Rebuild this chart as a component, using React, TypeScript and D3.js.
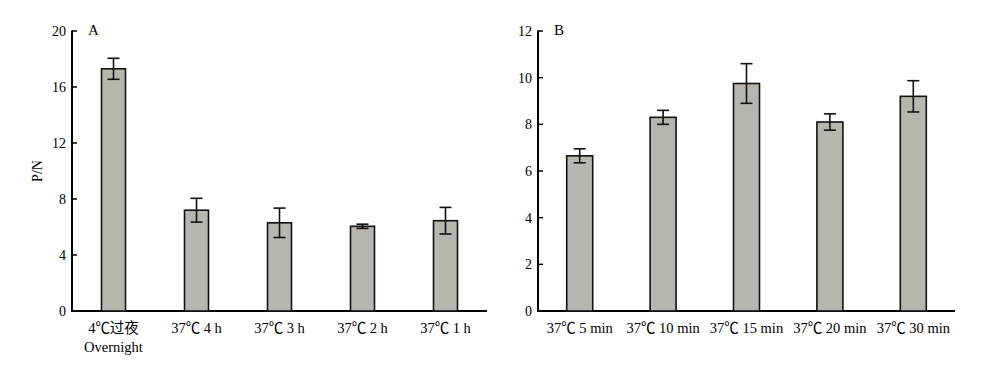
import React from "react";
import * as d3 from "d3";

const catA = ["4℃过夜|Overnight", "37℃ 4 h", "37℃ 3 h", "37℃ 2 h", "37℃ 1 h"];
const meanA = [17.3, 7.2, 6.3, 6.05, 6.45];
const errA = [0.75, 0.85, 1.05, 0.15, 0.95];
const ticksA = [0, 4, 8, 12, 16, 20];

const catB = ["37℃ 5 min", "37℃ 10 min", "37℃ 15 min", "37℃ 20 min", "37℃ 30 min"];
const meanB = [6.65, 8.3, 9.75, 8.1, 9.2];
const errB = [0.3, 0.3, 0.85, 0.35, 0.67];
const ticksB = [0, 2, 4, 6, 8, 10, 12];

const FONT = '"Liberation Serif", "Times New Roman", "Noto Sans CJK SC", serif';

type PanelProps = {
  cats: string[];
  means: number[];
  errs: number[];
  ticks: number[];
  ymax: number;
  x0: number;
  x1: number;
  barW: number;
  label: string;
  yTitle?: string;
};

function Panel({ cats, means, errs, ticks, ymax, x0, x1, barW, label, yTitle }: PanelProps) {
  const top = 31;
  const bottom = 311;
  const y = d3.scaleLinear().domain([0, ymax]).range([bottom, top]);
  const x = d3.scaleBand<string>().domain(cats).range([x0, x1]).padding(0);
  const capW = 12;
  return (
    <g fontFamily={FONT} fill="#000">
      <line x1={x0} x2={x0} y1={top - 0.5} y2={bottom} stroke="#000" strokeWidth={2} />
      <line x1={x0 - 1} x2={x1} y1={bottom} y2={bottom} stroke="#000" strokeWidth={2} />
      {ticks.map((t) => (
        <g key={t}>
          <line x1={x0} x2={x0 + 5} y1={y(t)} y2={y(t)} stroke="#000" strokeWidth={1.5} />
          <text x={x0 - 6} y={y(t)} dy="0.35em" textAnchor="end" fontSize={14}>
            {t}
          </text>
        </g>
      ))}
      {cats.map((c, i) => {
        const cx = (x(c) as number) + x.bandwidth() / 2;
        const v = means[i];
        const e = errs[i];
        const lines = c.split("|");
        return (
          <g key={c}>
            <rect
              x={cx - barW / 2}
              y={y(v)}
              width={barW}
              height={bottom - y(v)}
              fill="#b8b5af"
              stroke="#111"
              strokeWidth={1.6}
            />
            <line x1={cx} x2={cx} y1={y(v + e)} y2={y(v - e)} stroke="#111" strokeWidth={1.6} />
            <line x1={cx - capW / 2} x2={cx + capW / 2} y1={y(v + e)} y2={y(v + e)} stroke="#111" strokeWidth={1.6} />
            <line x1={cx - capW / 2} x2={cx + capW / 2} y1={y(v - e)} y2={y(v - e)} stroke="#111" strokeWidth={1.6} />
            {lines.map((l, k) => (
              <text key={k} x={cx} y={bottom + 22 + k * 19} textAnchor="middle" fontSize={14.5}>
                {l}
              </text>
            ))}
          </g>
        );
      })}
      <text x={x0 + 16} y={top + 4} fontSize={15}>
        {label}
      </text>
      {yTitle && (
        <text transform={`translate(${x0 - 30},${(top + bottom) / 2}) rotate(-90)`} textAnchor="middle" fontSize={14}>
          {yTitle}
        </text>
      )}
    </g>
  );
}

export default function App() {
  return (
    <svg width={1000} height={366} style={{ position: "absolute", left: 0, top: 0, background: "#fff" }}>
      <rect width={1000} height={366} fill="#fff" />
      <Panel cats={catA} means={meanA} errs={errA} ticks={ticksA} ymax={20} x0={72} x1={487} barW={24} label="A" yTitle="P/N" />
      <Panel cats={catB} means={meanB} errs={errB} ticks={ticksB} ymax={12} x0={538} x1={955} barW={26} label="B" />
    </svg>
  );
}
